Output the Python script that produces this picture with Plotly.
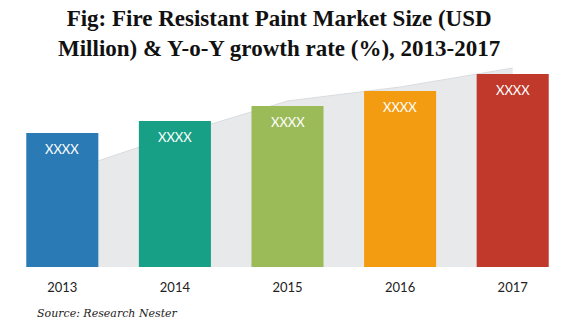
import plotly.graph_objects as go

years = ["2013", "2014", "2015", "2016", "2017"]
market_size = [134, 146, 161, 176, 193]
growth_area = [94, 132, 166, 180, 199]
bar_labels = ["XXXX", "XXXX", "XXXX", "XXXX", "XXXX"]
bar_colors = ["#2A7AB5", "#17A085", "#9BBB59", "#F39C12", "#C0392B"]

fig = go.Figure()

# area on the primary (underlying) subplot so it sits behind the bars
fig.add_trace(go.Scatter(
    x=years, y=growth_area, mode="lines", fill="tozeroy",
    line=dict(color="#D9DCDF", width=1), fillcolor="#E8E9EB",
    xaxis="x", yaxis="y", hoverinfo="skip", showlegend=False,
))

fig.add_trace(go.Bar(
    x=years, y=market_size, marker=dict(color=bar_colors, line=dict(width=0)),
    xaxis="x2", yaxis="y2", showlegend=False,
))

for i, (v, lab) in enumerate(zip(market_size, bar_labels)):
    fig.add_annotation(
        x=i, y=v, xref="x", yref="y", text=lab, showarrow=False,
        yshift=-16, font=dict(family="Lato", size=13, color="white"),
    )

fig.add_annotation(
    x=(35 - 6) / 563, y=(267 - 313) / 200, xref="paper", yref="paper",
    xanchor="left", yanchor="middle", showarrow=False,
    text="<i>Source: Research Nester</i>",
    font=dict(family="DejaVu Serif", size=11, color="#222222"),
)

fig.add_annotation(
    x=(279 - 6) / 563, y=(267 - 34) / 200, xref="paper", yref="paper",
    xanchor="center", yanchor="middle", showarrow=False,
    text="<b>Fig: Fire Resistant Paint Market Size (USD<br>Million) & Y-o-Y growth rate (%), 2013-2017</b>",
    font=dict(family="Liberation Serif", size=23, color="#111111"),
)

yr_range = [0, 200]
xr = [-0.5, 4.5]

fig.update_layout(
    width=580, height=325,
    margin=dict(l=6, r=11, t=67, b=58),
    paper_bgcolor="white", plot_bgcolor="white",
    bargap=0.36,
    xaxis=dict(type="category", range=xr, showgrid=False, zeroline=False,
               showline=False, ticks="", showticklabels=True,
               tickfont=dict(family="Lato", size=13, color="#222222"),
               ticklabelstandoff=11),
    yaxis=dict(range=yr_range, showgrid=False, zeroline=False,
               showline=False, showticklabels=False, ticks=""),
    xaxis2=dict(type="category", range=xr, overlaying="x", showgrid=False,
                zeroline=False, showline=False, showticklabels=False, ticks=""),
    yaxis2=dict(range=yr_range, overlaying="y", showgrid=False,
                zeroline=False, showline=False, showticklabels=False, ticks=""),
)

fig.write_html("out.html")
